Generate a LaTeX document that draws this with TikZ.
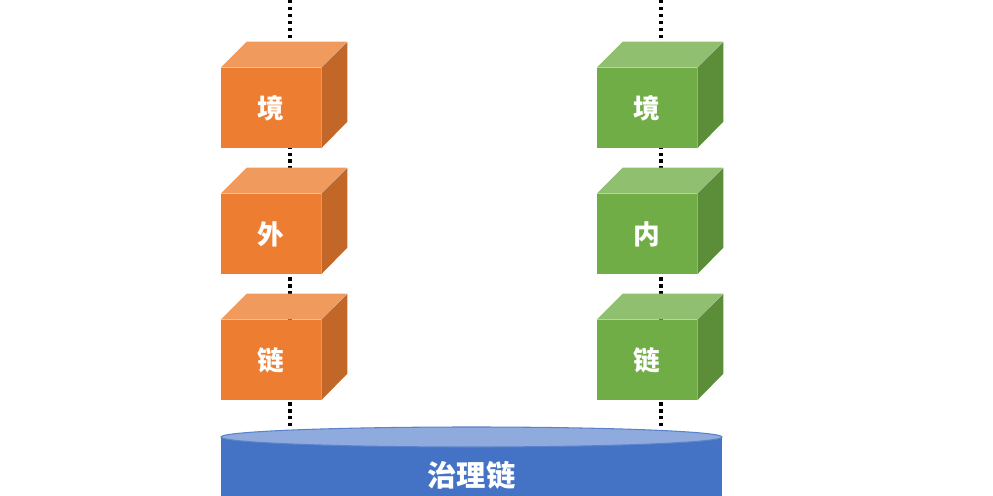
\documentclass[tikz,border=0pt]{standalone}
\usepackage{fontspec}
\newfontfamily\cjk{Noto Sans CJK SC}
\usetikzlibrary{calc}
\definecolor{outerorange}{HTML}{ED7D31}
\definecolor{innergreen}{HTML}{70AD47}
\definecolor{chainblue}{HTML}{4472C4}
\definecolor{chaintop}{HTML}{8FAADC}
\tikzset{
	cubefront/.style={rectangle, inner sep=0pt, minimum width=75pt, minimum height=60pt,
		text=white, font=\cjk\bfseries\fontsize{20}{20}\selectfont},
	dotline/.style={line width=2.4pt, dash pattern=on 2.6pt off 2.6pt}
}
% #1 name, #2 centre of front face, #3 colour, #4 label
\newcommand{\drawcube}[4]{
	\node[cubefront, fill=#3] (#1) at (#2) {#4};
	\fill[#3!78!white] (#1.north west) -- ++(26,-26) -- ++(100,0) -- (#1.north east) -- cycle;
	\fill[#3!82!black] (#1.north east) -- ++(26,-26) -- ++(0,80) -- (#1.south east) -- cycle;
}

\begin{document}
\begin{tikzpicture}[x=0.75pt, y=-0.75pt]
			%%%%% START %%%%%
			\useasboundingbox (0, 0) rectangle (993, 496);
			
			\coordinate (topL) at (290, 0);
			\coordinate (topR) at (661, 0);
			\coordinate (chainL) at (290, 430);
			\coordinate (chainR) at (661, 430);
			
			\draw[dotline] (topL) -- (chainL);
			\draw[dotline] (topR) -- (chainR);
			
			\drawcube{outer3}{271, 108}{outerorange}{境}
			\drawcube{outer2}{271, 234}{outerorange}{外}
			\drawcube{outer1}{271, 360}{outerorange}{链}
			
			\drawcube{inner3}{647, 108}{innergreen}{境}
			\drawcube{inner2}{647, 234}{innergreen}{内}
			\drawcube{inner1}{647, 360}{innergreen}{链}
			
			\fill[chainblue] (221, 437) rectangle (722, 500);
			\draw[fill=chaintop, draw=chainblue!70!chaintop, line width=0.8pt] (471.5, 437) ellipse (250.5 and 10);
			\node[text=white, font=\cjk\bfseries\fontsize{22}{22}\selectfont] (chain) at (471.5, 475) {治理链};
			
			%%%%% END %%%%%
		\end{tikzpicture}
\end{document}
